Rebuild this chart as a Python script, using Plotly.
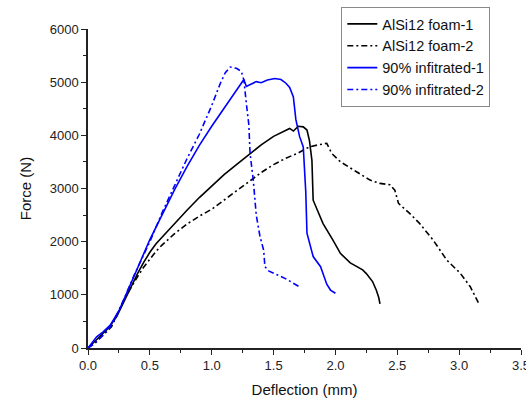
import plotly.graph_objects as go

foam1_x = [0, 0.05, 0.1, 0.164, 0.232, 0.3, 0.35, 0.4, 0.45, 0.5, 0.55, 0.6, 0.7, 0.8, 0.9, 1.0, 1.1, 1.2, 1.3, 1.4, 1.5, 1.6, 1.63, 1.66, 1.70, 1.74, 1.77, 1.79, 1.81, 1.82, 1.86, 1.90, 1.98, 2.04, 2.12, 2.22, 2.25, 2.30, 2.33, 2.35, 2.36]
foam1_y = [0, 110, 220, 370, 590, 920, 1170, 1400, 1610, 1800, 1960, 2090, 2340, 2590, 2830, 3050, 3260, 3450, 3640, 3820, 3980, 4090, 4130, 4080, 4170, 4160, 4100, 3900, 3530, 2780, 2550, 2340, 2030, 1780, 1600, 1470, 1400, 1250, 1090, 950, 830]

foam2_x = [0, 0.057, 0.1, 0.19, 0.3, 0.35, 0.4, 0.45, 0.5, 0.55, 0.6, 0.7, 0.8, 0.9, 1.0, 1.1, 1.2, 1.3, 1.4, 1.5, 1.6, 1.7, 1.79, 1.86, 1.93, 1.97, 2.04, 2.17, 2.28, 2.36, 2.44, 2.48, 2.51, 2.60, 2.68, 2.79, 2.90, 3.01, 3.09, 3.155]
foam2_y = [0, 90, 200, 400, 950, 1150, 1340, 1520, 1680, 1820, 1940, 2150, 2330, 2480, 2610, 2780, 2960, 3130, 3300, 3450, 3570, 3670, 3784, 3820, 3850, 3660, 3503, 3315, 3158, 3096, 3070, 2970, 2720, 2532, 2344, 2030, 1654, 1404, 1152, 852]

inf1_x = [0, 0.07, 0.12, 0.18, 0.25, 0.3, 0.4, 0.5, 0.6, 0.7, 0.8, 0.9, 1.0, 1.1, 1.2, 1.26, 1.28, 1.32, 1.36, 1.40, 1.45, 1.51, 1.56, 1.60, 1.63, 1.66, 1.68, 1.71, 1.74, 1.76, 1.77, 1.82, 1.88, 1.93, 1.96, 2.0]
inf1_y = [0, 210, 300, 430, 700, 960, 1500, 2040, 2520, 2980, 3410, 3810, 4170, 4510, 4840, 5050, 4920, 4960, 5010, 4990, 5040, 5070, 5050, 4980, 4900, 4720, 4300, 3980, 3780, 2950, 2160, 1720, 1530, 1200, 1090, 1030]

inf2_x = [0, 0.057, 0.1, 0.164, 0.22, 0.3, 0.38, 0.5, 0.6, 0.7, 0.8, 0.9, 1.0, 1.07, 1.11, 1.15, 1.2, 1.24, 1.26, 1.28, 1.30, 1.31, 1.336, 1.36, 1.39, 1.42, 1.43, 1.46, 1.6, 1.71]
inf2_y = [0, 94, 190, 338, 560, 965, 1408, 2000, 2550, 3070, 3560, 4020, 4560, 4980, 5180, 5285, 5260, 5200, 5040, 4600, 4200, 3660, 3158, 2500, 2100, 1840, 1530, 1450, 1300, 1150]

names = ["AlSi12 foam-1", "AlSi12 foam-2", "90% infitrated-1", "90% infitrated-2"]

x_ticks = [0, 0.5, 1.0, 1.5, 2.0, 2.5, 3.0, 3.5]
x_ticktext = ["0.0", "0.5", "1.0", "1.5", "2.0", "2.5", "3.0", "3.5"]
x_minor = [0.25, 0.75, 1.25, 1.75, 2.25, 2.75, 3.25]

dashdot = "6px,3px,2px,3px"
series = [
    (foam1_x, foam1_y, names[0], "black", "solid"),
    (foam2_x, foam2_y, names[1], "black", dashdot),
    (inf1_x, inf1_y, names[2], "#0000ff", "solid"),
    (inf2_x, inf2_y, names[3], "#0000ff", dashdot),
]

fig = go.Figure()
for xs, ys, nm, col, dash in series:
    fig.add_trace(go.Scatter(x=xs, y=ys, name=nm, mode="lines",
                             line=dict(color=col, width=1.6, dash=dash)))

font = "Liberation Sans, Arial, sans-serif"
fig.update_layout(
    width=526, height=401,
    margin=dict(l=88, r=5, t=29, b=53),
    paper_bgcolor="white", plot_bgcolor="white",
    font=dict(family=font, color="#222", size=13),
    showlegend=True,
    legend=dict(x=0.585, y=1.069, xanchor="left", yanchor="top",
                bordercolor="#888", borderwidth=1, bgcolor="white",
                font=dict(size=14.5, color="#111"), tracegroupgap=0,
                itemwidth=30),
    xaxis=dict(range=[0, 3.5], tickvals=x_ticks, ticktext=x_ticktext,
               ticklabeloverflow="allow", automargin=False,
               showgrid=False, zeroline=False, showline=True, linecolor="#222", linewidth=1.5,
               ticks="outside", ticklen=5, tickwidth=1.3, tickcolor="#222",
               minor=dict(tickvals=x_minor, ticks="outside", ticklen=3, tickwidth=1.2, tickcolor="#222"),
               title=dict(text="Deflection (mm)", font=dict(size=15, color="#111"), standoff=12),
               tickfont=dict(size=13)),
    yaxis=dict(range=[0, 6000], dtick=1000, tick0=0, automargin=False,
               showgrid=False, zeroline=False, showline=True, linecolor="#222", linewidth=1.5,
               ticks="outside", ticklen=5, tickwidth=1.3, tickcolor="#222",
               minor=dict(dtick=500, ticks="outside", ticklen=3, tickwidth=1.2, tickcolor="#222"),
               title=dict(text="Force (N)", font=dict(size=15, color="#111"), standoff=14),
               tickfont=dict(size=13)),
)

fig.write_html("out.html")
